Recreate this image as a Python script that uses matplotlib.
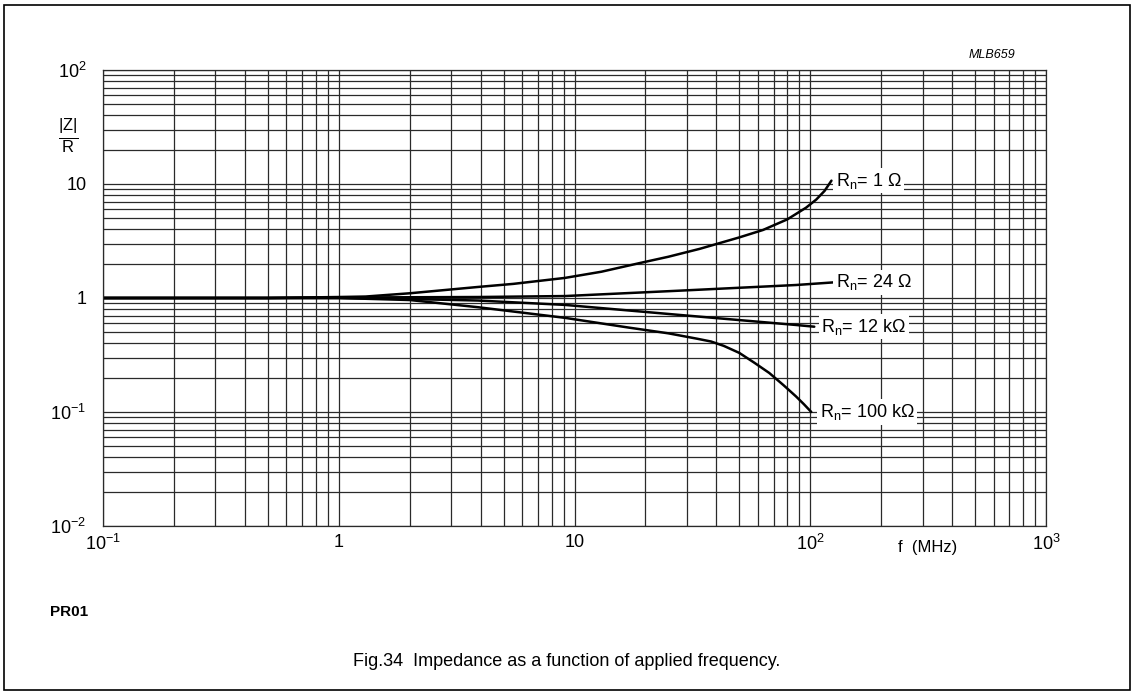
import numpy as np
import matplotlib
matplotlib.use("Agg")
import matplotlib.pyplot as plt
from matplotlib.patches import Rectangle

plt.rcParams['font.family'] = ['Liberation Sans', 'DejaVu Sans']
plt.rcParams['mathtext.fontset'] = 'custom'
plt.rcParams['mathtext.rm'] = 'Liberation Sans'
plt.rcParams['mathtext.it'] = 'Liberation Sans:italic'

# ---------------------------------------------------------------- data
f_1 = [0.1, 0.5, 1.0, 1.3, 2.0, 3.9, 5.5, 9.1, 13, 19, 25, 34, 50, 63, 80, 96, 106, 115, 123]
z_1 = [1.0, 1.0, 1.02, 1.03, 1.1, 1.25, 1.33, 1.5, 1.7, 2.03, 2.3, 2.7, 3.4, 3.95, 4.9,
       6.2, 7.3, 8.7, 10.7]

f_24 = [0.1, 0.5, 1.0, 3.9, 9.1, 28, 87, 125]
z_24 = [1.0, 1.0, 1.01, 1.02, 1.04, 1.16, 1.30, 1.37]

f_12k = [0.1, 0.5, 1.0, 2.0, 3.9, 9.1, 28, 87, 104]
z_12k = [1.0, 1.0, 1.0, 0.98, 0.95, 0.87, 0.71, 0.58, 0.56]

f_100k = [0.1, 0.5, 1.0, 2.0, 3.9, 9.1, 17, 25, 33, 38, 43, 50, 58, 67, 77, 87, 94, 101]
z_100k = [1.0, 1.0, 1.0, 0.96, 0.83, 0.67, 0.55, 0.49, 0.44, 0.415, 0.38, 0.33, 0.27,
          0.22, 0.172, 0.137, 0.117, 0.10]

curve_labels = [r'R$_\mathrm{n}$= 1 Ω', r'R$_\mathrm{n}$= 24 Ω',
                r'R$_\mathrm{n}$= 12 kΩ', r'R$_\mathrm{n}$= 100 kΩ']

x_ticks = [0.1, 1, 10, 100, 1000]
x_tick_labels = [r'10$^{-1}$', '1', '10', r'10$^2$', r'10$^3$']
y_ticks = [0.01, 0.1, 1, 10, 100]
y_tick_labels = [r'10$^{-2}$', r'10$^{-1}$', '1', '10', r'10$^2$']

# ---------------------------------------------------------------- figure
fig = plt.figure(figsize=(11.34, 6.92), dpi=100)
fig.patches.append(Rectangle((4 / 1134, 2 / 692), 1126 / 1134, 685 / 692,
                             transform=fig.transFigure, fill=False,
                             edgecolor='black', linewidth=1.2))

ax = fig.add_axes([103 / 1134, 1 - 526 / 692, 943 / 1134, 456 / 692])
ax.set_xscale('log')
ax.set_yscale('log')
ax.set_xlim(0.1, 1000)
ax.set_ylim(0.01, 100)

ax.grid(True, which='both', color='#2a2a2a', linewidth=0.9)
ax.set_axisbelow(True)
for s in ax.spines.values():
    s.set_linewidth(0.9)
    s.set_color('#2a2a2a')
ax.tick_params(which='both', length=0, labelsize=13)
ax.set_xticks(x_ticks)
ax.set_xticklabels(x_tick_labels)
ax.set_yticks(y_ticks)
ax.set_yticklabels(y_tick_labels)
ax.tick_params(axis='x', pad=6)
ax.tick_params(axis='y', pad=12)

series = [(f_1, z_1), (f_24, z_24), (f_12k, z_12k), (f_100k, z_100k)]
offsets = [3, 2, 5, 6]
for (fx, zy), lab, dx in zip(series, curve_labels, offsets):
    ax.plot(fx, zy, color='black', linewidth=1.8, solid_capstyle='round',
            solid_joinstyle='round')
    ax.annotate(lab, xy=(fx[-1], zy[-1]), xytext=(dx, 0), textcoords='offset points',
                va='center', ha='left', fontsize=13,
                bbox=dict(boxstyle='square,pad=0.15', facecolor='white', edgecolor='none'))

ax.text(0.875, -0.048, 'f  (MHz)', transform=ax.transAxes, ha='center', va='center',
        fontsize=12)
ax.text(-0.037, 0.857, r'$\frac{|\mathrm{Z}|}{\mathrm{R}}$', transform=ax.transAxes,
        ha='center', va='center', fontsize=17)

fig.text(1015 / 1134, 1 - 55 / 692, 'MLB659', ha='right', va='center',
         fontsize=9, style='italic')
fig.text(50 / 1134, 1 - 612 / 692, 'PR01', ha='left', va='center',
         fontsize=11, fontweight='bold')
fig.text(567 / 1134, 1 - 662 / 692, 'Fig.34  Impedance as a function of applied frequency.',
         ha='center', va='center', fontsize=13)

fig.savefig('out.png', dpi=100, facecolor='white')
